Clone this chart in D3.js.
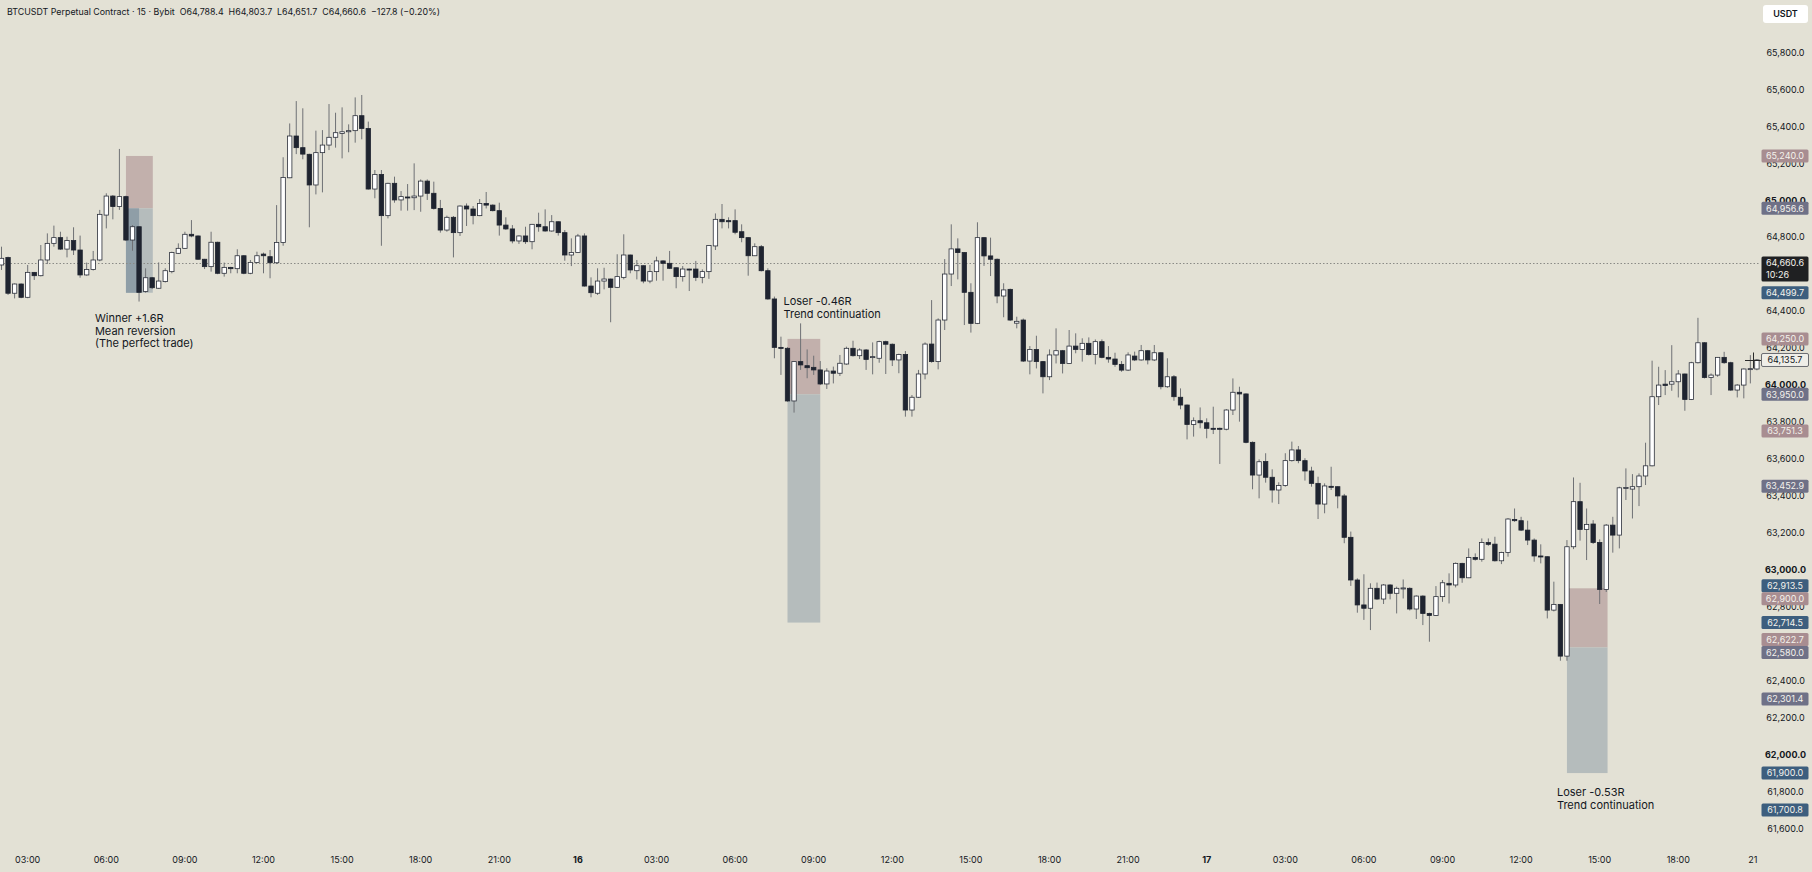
<!DOCTYPE html>
<html lang="en">
<head>
<meta charset="UTF-8">
<title>BTCUSDT Perpetual Contract - 15 - Bybit</title>
<style>
  html, body { margin: 0; padding: 0; background: #e3e1d5; }
  svg { display: block; font-family: Inter, Roboto, "Noto Sans", sans-serif; }
  .axis-label { font-size: 9px; fill: #131722; }
  .axis-label.bold { font-weight: 700; }
  .header { font-size: 8.85px; fill: #131722; }
  .note { font-size: 11px; fill: #131722; }
  .badge-text { font-size: 9px; fill: #f4f2ec; }
</style>
<script src="https://d3js.org/d3.v7.min.js"></script>
</head>
<body>
<svg></svg>
<script>
// 15 minute candles, first one is 15th 02:00, last one is 17th 21:00
const opens = [
  64650,64690,64497,64547,64475,64610,64592,64677,64767,64798,64736,64782,64731,64596,64626,64677,64920,65023,64966,65020,
  64785,64857,64506,64581,64524,64560,64614,64713,64740,64816,64807,64681,64641,64773,64605,64637,64630,64700,64605,64664,
  64709,64695,64662,64772,65122,65348,65285,65249,65083,65258,65299,65341,65362,65371,65377,65458,65389,65061,65140,64917,
  65092,65002,65018,65014,65023,65104,65038,64956,64839,64908,64825,64969,64953,64917,64983,64974,64944,64866,64845,64780,
  64807,64776,64870,64857,64834,64884,64825,64704,64717,64807,64536,64497,64563,64574,64529,64583,64704,64619,64646,64563,
  64614,64672,64659,64635,64587,64628,64628,64583,64614,64753,64897,64890,64890,64830,64798,64700,64749,64619,64466,64204,
  64199,63914,64127,64105,64096,64082,64006,64076,64064,64114,64199,64159,64190,64150,64145,64235,64221,64136,64166,63865,
  63934,64060,64222,64127,64352,64601,64737,64717,64502,64334,64798,64699,64681,64482,64518,64335,64352,64130,64193,64127,
  64045,64163,64186,64117,64211,64193,64226,64166,64235,64150,64141,64112,64081,64157,64136,64186,64136,64175,63991,64045,
  63934,63892,63787,63807,63796,63766,63766,63761,63865,63961,63952,63690,63513,63586,63501,63432,63456,63591,63649,63591,
  63535,63468,63356,63452,63450,63400,63176,62945,62810,62792,62900,62842,62918,62873,62900,62900,62788,62858,62764,62753,
  62855,62927,62918,63035,62957,63067,63057,63148,63139,63049,63094,63273,63266,63215,63161,63075,63071,62782,62813,62533,
  63125,63369,63219,63248,63148,62894,63242,63188,63444,63437,63450,63508,63563,63937,64005,64005,64018,64060,63922,64121,
  64229,64041,64054,64150,64121,63973,64000,64087,64087
];
const highs = [
  64749,64695,64550,64550,64650,64612,64758,64821,64863,64830,64803,64854,64809,64663,64726,64948,65038,65028,65278,65025,
  64866,64860,64632,64585,64664,64632,64722,64767,64830,64893,64810,64683,64830,64776,64663,64640,64735,64703,64677,64722,
  64717,64731,64974,65233,65416,65537,65498,65252,65377,65380,65521,65474,65503,65411,65557,65570,65426,65164,65164,65095,
  65128,65050,65088,65200,65113,65113,65101,65002,64917,64915,64972,64983,64969,65007,65045,64978,64987,64908,64866,64810,
  64857,64872,64933,64951,64920,64886,64839,64794,64818,64821,64583,64632,64635,64576,64708,64816,64706,64677,64648,64650,
  64695,64675,64726,64637,64644,64630,64672,64626,64757,64929,64980,64908,64951,64870,64800,64767,64758,64632,64479,64262,
  64205,64130,64334,64193,64159,64130,64091,64100,64163,64208,64240,64199,64195,64231,64240,64240,64225,64170,64184,63946,
  64082,64231,64460,64361,64682,64870,64794,64720,64551,64881,64800,64798,64685,64551,64522,64370,64360,64211,64267,64130,
  64193,64307,64190,64298,64280,64253,64258,64247,64247,64211,64175,64130,64177,64181,64217,64190,64217,64178,64145,64054,
  63982,63895,63825,63879,63820,63883,63770,63870,64036,63991,63955,63695,63598,63631,63544,63474,63631,63694,63670,63604,
  63558,63504,63468,63558,63452,63411,63207,62954,62976,62927,62931,62923,62922,62909,62948,62905,62862,62862,62768,62912,
  62945,62981,63040,63038,63116,63089,63170,63170,63179,63098,63280,63332,63287,63266,63170,63138,63073,62936,62815,63161,
  63500,63471,63332,63269,63165,63248,63287,63450,63549,63518,63522,63688,64132,64099,64081,64216,64081,64062,64126,64364,
  64232,64063,64152,64180,64126,64005,64090,64162,64140
];
const lows = [
  64623,64488,64469,64470,64470,64569,64588,64655,64749,64732,64691,64704,64581,64592,64620,64670,64848,64897,64948,64780,
  64727,64452,64500,64520,64520,64555,64605,64710,64738,64800,64678,64628,64614,64600,64587,64605,64605,64600,64600,64660,
  64605,64578,64655,64754,65120,65250,65222,64854,65032,65043,65272,65285,65227,65260,65312,65330,65058,65011,64754,64902,
  64987,64944,64944,64947,64938,65002,64950,64825,64830,64691,64807,64861,64870,64914,64956,64940,64809,64840,64767,64764,
  64764,64735,64830,64830,64830,64809,64673,64644,64715,64533,64475,64488,64518,64340,64525,64572,64605,64572,64551,64551,
  64565,64565,64628,64524,64560,64509,64563,64551,64575,64731,64848,64848,64816,64773,64592,64698,64615,64462,64145,64055,
  63910,63851,64082,64037,64055,64000,63979,64009,64049,64110,64154,64141,64082,64058,64121,64060,64103,64064,63829,63829,
  63930,64031,64121,64085,64298,64536,64572,64325,64284,64330,64645,64590,64443,64367,64347,64307,64125,64058,64090,63955,
  64027,64117,64063,64115,64172,64127,64160,64112,64145,64121,64099,64072,64076,64130,64132,64112,64130,63977,63985,63915,
  63869,63706,63721,63766,63712,63735,63573,63755,63838,63802,63685,63436,63387,63472,63364,63356,63450,63586,63577,63483,
  63450,63275,63306,63432,63333,63144,62913,62768,62729,62674,62837,62815,62840,62764,62845,62780,62734,62701,62611,62750,
  62827,62818,62905,62930,62955,63050,63044,63130,63045,63031,63071,63260,63210,63134,63044,63035,62737,62775,62508,62508,
  63112,63158,63053,63140,62815,62880,63093,63116,63378,63278,63345,63459,63560,63892,63946,63969,63933,63861,63919,64117,
  64036,63946,64045,64115,63969,63933,63928,64009,64080
];
const closes = [
  64686,64497,64547,64475,64610,64592,64677,64767,64798,64736,64782,64731,64596,64626,64677,64924,65023,64966,65020,64785,
  64857,64502,64581,64527,64563,64619,64718,64740,64816,64807,64681,64641,64773,64605,64637,64630,64700,64605,64664,64700,
  64700,64662,64772,65124,65348,65285,65250,65083,65258,65299,65341,65366,65371,65377,65458,65389,65061,65140,64917,65092,
  65002,65020,65016,65023,65104,65038,64956,64839,64908,64825,64969,64953,64917,64983,64974,64944,64866,64845,64780,64807,
  64776,64870,64857,64834,64884,64825,64704,64718,64807,64536,64500,64563,64574,64529,64587,64704,64623,64646,64563,64614,
  64672,64659,64632,64587,64628,64626,64583,64614,64755,64897,64884,64884,64827,64798,64700,64749,64619,64466,64204,64203,
  63914,64127,64109,64094,64082,64006,64076,64064,64118,64199,64159,64190,64139,64154,64235,64221,64136,64166,63865,63934,
  64060,64222,64127,64352,64601,64737,64717,64502,64334,64798,64699,64681,64482,64515,64352,64345,64130,64193,64127,64045,
  64163,64186,64117,64211,64193,64226,64166,64235,64150,64141,64112,64081,64163,64136,64186,64136,64175,63991,64045,63937,
  63892,63787,63807,63796,63766,63764,63764,63865,63961,63952,63690,63513,63585,63501,63432,63456,63591,63649,63591,63535,
  63468,63356,63454,63450,63400,63176,62945,62810,62792,62900,62842,62918,62873,62900,62902,62788,62858,62764,62753,62855,
  62930,62918,63035,62957,63067,63057,63148,63138,63049,63094,63275,63266,63215,63161,63075,63071,62782,62813,62533,63125,
  63369,63219,63246,63148,62894,63242,63188,63444,63446,63450,63508,63563,63937,64000,63998,64018,64060,63922,64121,64229,
  64041,64054,64150,64121,63973,64000,64087,64089,64136
];

// time axis: one label every 12 candles, starting at candle 4 (03:00)
const timeLabels = ["03:00","06:00","09:00","12:00","15:00","18:00","21:00","16",
                    "03:00","06:00","09:00","12:00","15:00","18:00","21:00","17",
                    "03:00","06:00","09:00","12:00","15:00","18:00","21"];
const priceTicks = d3.range(61600, 65801, 200);

// position tools (short trades)
const tradeStart  = [19, 120, 239];
const tradeEnd    = [23.1, 125, 245.2];
const tradeStop   = [65240, 64250, 62900];
const tradeEntry  = [64956.6, 63950, 62580];
const tradeTarget = [64499.7, 62714.5, 61900];
const tradeHitAt  = [21, null, null];
const tradeNotes  = [
  ["Winner +1.6R", "Mean reversion", "(The perfect trade)"],
  ["Loser -0.46R", "Trend continuation"],
  ["Loser -0.53R", "Trend continuation"]
];

// price scale badges
const badgePrices = [65240, 64956.6, 64660.6, 64499.7, 64250, 64135.7, 63950, 63751.3, 63452.9,
                     62913.5, 62900, 62714.5, 62622.7, 62580, 62301.4, 61900, 61700.8];
const badgeKinds  = ["pink","gray","last","blue","pink","cross","gray","pink","gray",
                     "blue","pink","blue","pink","gray","gray","blue","blue"];
const lastPrice = 64660.6;
const crossPrice = 64135.7;
const countdown = "10:26";

const W = 1812, H = 872;
const plotRight = 1760;
const fmt = d3.format(",.1f");

const svg = d3.select("svg").attr("width", W).attr("height", H);
svg.append("rect").attr("width", W).attr("height", H).attr("fill", "#e3e1d5");

const x = d3.scaleLinear().domain([0, opens.length - 1]).range([1.5, 1756.9]);
const y = d3.scaleLinear().domain([61600, 65800]).range([828.5, 52.5]);

svg.append("clipPath").attr("id", "plot")
  .append("rect").attr("x", 0).attr("y", 0).attr("width", plotRight).attr("height", 848);

const plot = svg.append("g").attr("clip-path", "url(#plot)");

// trade boxes, under the candles
tradeStart.forEach((s, k) => {
  const x0 = x(s), x1 = x(tradeEnd[k]);
  plot.append("rect")
    .attr("x", x0).attr("width", x1 - x0)
    .attr("y", y(tradeStop[k])).attr("height", y(tradeEntry[k]) - y(tradeStop[k]))
    .attr("fill", "#c2b0ac");
  plot.append("rect")
    .attr("x", x0).attr("width", x1 - x0)
    .attr("y", y(tradeEntry[k])).attr("height", y(tradeTarget[k]) - y(tradeEntry[k]))
    .attr("fill", "#b5bcbc");
  if (tradeHitAt[k] !== null) {
    plot.append("rect")
      .attr("x", x0).attr("width", x(tradeHitAt[k]) - x0)
      .attr("y", y(tradeEntry[k])).attr("height", y(tradeTarget[k]) - y(tradeEntry[k]))
      .attr("fill", "#8f9ea7");
  }
});

// last price dotted line
plot.append("line")
  .attr("x1", 0).attr("x2", plotRight)
  .attr("y1", Math.round(y(lastPrice)) + 0.5).attr("y2", Math.round(y(lastPrice)) + 0.5)
  .attr("stroke", "#8a8a86").attr("stroke-width", 1).attr("stroke-dasharray", "1.5,2");

// candles
const idx = d3.range(opens.length);
plot.append("g").selectAll("line")
  .data(idx).join("line")
  .attr("x1", i => x(i)).attr("x2", i => x(i))
  .attr("y1", i => y(highs[i])).attr("y2", i => y(lows[i]))
  .attr("stroke", "#6f7175").attr("stroke-width", 1);

const bodyW = 4.4;
plot.append("g").selectAll("rect")
  .data(idx).join("rect")
  .attr("x", i => x(i) - bodyW / 2)
  .attr("width", bodyW)
  .attr("y", i => y(Math.max(opens[i], closes[i])))
  .attr("height", i => Math.max(1, Math.abs(y(opens[i]) - y(closes[i]))))
  .attr("fill", i => closes[i] < opens[i] ? "#1f2430" : "#ffffff")
  .attr("stroke", i => closes[i] < opens[i] ? "#1f2430" : "#2b2f3a")
  .attr("stroke-width", 0.8);

// trade notes
const noteAnchor = [
  { dx: -31, y: 322 },
  { dx: -4, y: 305 },
  { dx: -10, y: 796 }
];
tradeNotes.forEach((lines, k) => {
  const t = svg.append("text").attr("class", "note")
    .attr("x", x(tradeStart[k]) + noteAnchor[k].dx)
    .attr("y", noteAnchor[k].y);
  lines.forEach((ln, j) => {
    t.append("tspan").attr("x", x(tradeStart[k]) + noteAnchor[k].dx)
      .attr("dy", j === 0 ? 0 : 12.5).text(ln);
  });
});

// price axis panel
svg.append("rect").attr("x", plotRight).attr("y", 0).attr("width", W - plotRight).attr("height", H)
  .attr("fill", "#e3e1d5");

// badges with simple overlap avoidance
const badgeH = 13;
const order = d3.range(badgePrices.length).sort((a, b) => y(badgePrices[a]) - y(badgePrices[b]));
let prevBottom = -Infinity;
const badgeY = [];
const spans = [];
order.forEach(k => {
  let cy = y(badgePrices[k]);
  if (cy - badgeH / 2 < prevBottom) cy = prevBottom + badgeH / 2;
  badgeY[k] = cy;
  const h = badgeKinds[k] === "last" ? badgeH + 12 : badgeH;
  const top = cy - badgeH / 2, bot = top + h;
  const last = spans[spans.length - 1];
  if (last && top <= last[1] + 0.01) last[1] = Math.max(last[1], bot);
  else spans.push([top, bot]);
  prevBottom = bot;
});

// tick labels; the ones fully under the badges are not visible anyway
const hidden = d => spans.some(([a, b]) => y(d) - 3.5 >= a && y(d) + 3.5 <= b);
svg.append("g").selectAll("text")
  .data(priceTicks.filter(d => !hidden(d))).join("text")
  .attr("class", d => d % 1000 === 0 ? "axis-label bold" : "axis-label")
  .attr("x", 1785.5).attr("y", d => y(d) + 3.2)
  .attr("text-anchor", "middle")
  .text(d => fmt(d));

const badgeFill = { pink: "#a88d91", gray: "#6f7187", blue: "#3d5e7e", last: "#1f2022", cross: "#efeee8" };

order.forEach(k => {
  const kind = badgeKinds[k];
  const cy = badgeY[k];
  const h = kind === "last" ? badgeH + 12 : badgeH;
  svg.append("rect")
    .attr("x", 1761.5).attr("y", cy - badgeH / 2)
    .attr("width", 47).attr("height", h)
    .attr("rx", 1.5)
    .attr("fill", badgeFill[kind])
    .attr("stroke", kind === "cross" ? "#4a4d55" : "none")
    .attr("stroke-width", 0.8);
  svg.append("text").attr("class", "badge-text")
    .attr("x", 1785).attr("y", cy + 3.2).attr("text-anchor", "middle")
    .style("fill", kind === "cross" ? "#131722" : null)
    .text(fmt(badgePrices[k]));
  if (kind === "last") {
    svg.append("text").attr("class", "badge-text")
      .attr("x", 1766).attr("y", cy + 15)
      .text(countdown);
  }
});

// currency button
svg.append("rect").attr("x", 1763).attr("y", 5).attr("width", 45).attr("height", 18)
  .attr("rx", 3).attr("fill", "#ffffff");
svg.append("text").attr("class", "axis-label").attr("x", 1785.5).attr("y", 17)
  .attr("text-anchor", "middle").style("font-weight", 600).text("USDT");

// mouse cursor
const cy0 = Math.round(y(crossPrice)) + 0.5;
svg.append("line").attr("x1", 1745).attr("x2", 1761).attr("y1", cy0).attr("y2", cy0)
  .attr("stroke", "#2a2a2a").attr("stroke-width", 1);
svg.append("line").attr("x1", 1753.5).attr("x2", 1753.5).attr("y1", cy0 - 8).attr("y2", cy0 + 8)
  .attr("stroke", "#2a2a2a").attr("stroke-width", 1);

// time axis
svg.append("g").selectAll("text")
  .data(timeLabels).join("text")
  .attr("class", d => d.length <= 2 && d !== "21" ? "axis-label bold" : "axis-label")
  .attr("x", (d, k) => x(4 + 12 * k) - (k === timeLabels.length - 1 ? 4 : 0))
  .attr("y", 863)
  .attr("text-anchor", "middle")
  .text(d => d);

// header
svg.append("text").attr("class", "header").attr("x", 7).attr("y", 15)
  .style("white-space", "pre")
  .text("BTCUSDT Perpetual Contract \u00b7 15 \u00b7 Bybit  O64,788.4  H64,803.7  L64,651.7  C64,660.6  \u2212127.8 (\u22120.20%)");
</script>
</body>
</html>
